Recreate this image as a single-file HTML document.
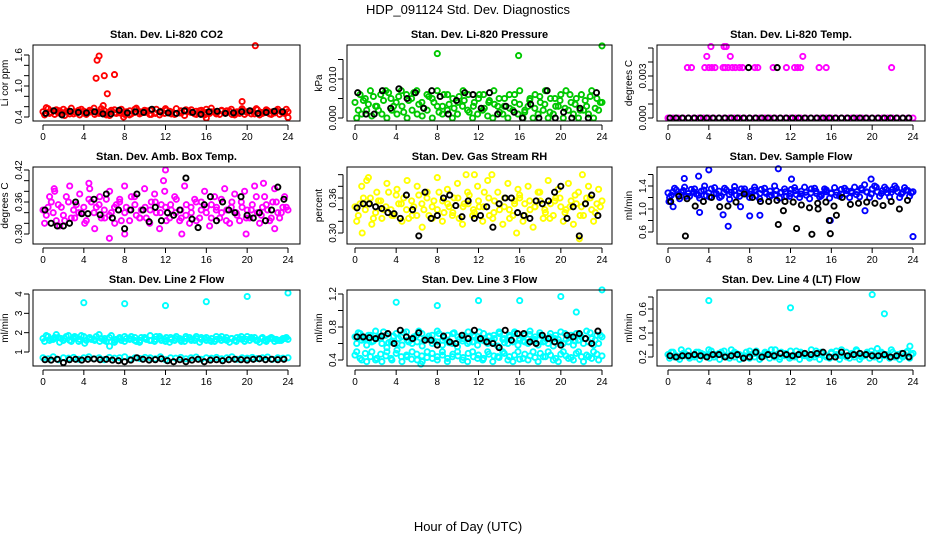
<!DOCTYPE html>
<html><head><meta charset="utf-8"><style>
body{margin:0;background:#fff}
svg{display:block;font-family:"Liberation Sans",sans-serif}
</style></head><body>
<svg id="c" width="936" height="540" viewBox="0 0 936 540">
<text x="468" y="14" font-size="13" text-anchor="middle">HDP_091124  Std. Dev. Diagnostics</text>
<text x="468" y="531" font-size="13" text-anchor="middle">Hour of Day (UTC)</text>
</svg>
<script>
// ---- data ----
const hourTicks=[0,4,8,12,16,20,24];
const hourTickLabels=["0","4","8","12","16","20","24"];

const co2RedA=[0.50,0.56,0.52,0.48,0.55,0.50,0.46,0.53,0.51,0.49,0.57,0.47,0.52,0.50,0.54,0.48,0.45,0.52,0.55,0.50,0.49,0.53,0.47,0.51,0.56,0.50,0.46,0.52,0.54,0.49,0.51,0.48,0.55,0.50,0.47,0.53,0.52,0.45,0.50,0.56,0.49,0.51,0.54,0.47,0.52,0.50,0.55,0.48,0.50];
const co2RedB=[0.44,0.47,0.45,0.52,0.43,0.46,0.50,0.44,0.47,0.53,0.45,0.50,0.46,0.43,0.48,0.52,0.46,0.44,0.49,0.46,0.53,0.45,0.48,0.44,0.47,0.51,0.45,0.48,0.43,0.50,0.46,0.52,0.44,0.47,0.50,0.45,0.48,0.51,0.44,0.47,0.45,0.52,0.46,0.44,0.49,0.46,0.48,0.45,0.47];
const co2RedC=[0.58,0.49,0.54,0.46,0.51,0.57,0.48,0.55,0.45,0.52,0.49,0.56,0.44,0.53,0.47,0.55,0.50,0.46,0.57,0.48,0.52,0.45,0.55,0.49,0.53,0.46,0.56,0.48,0.51,0.54,0.45,0.53,0.49,0.57,0.46,0.52,0.48,0.55,0.47,0.53,0.50,0.46,0.56,0.49,0.54,0.45,0.52,0.50,0.55];
const co2RedOutHours=[5.3,5.5,5.2,6.0,7.0,6.3,5.9,19.5,20.8,16.0,24.0,7.9];
const co2RedOutValues=[1.5,1.58,1.15,1.2,1.22,0.85,0.62,0.7,1.78,0.38,0.39,0.4];
const co2Black=[0.47,0.52,0.44,0.51,0.49,0.48,0.50,0.46,0.46,0.53,0.48,0.50,0.49,0.55,0.50,0.48,0.47,0.52,0.49,0.45,0.50,0.51,0.47,0.48,0.50,0.52,0.47,0.49,0.51,0.50];

const presGreenA=[0.004,0.006,0.005,0.007,0.003,0.006,0.007,0.005,0.004,0.007,0.006,0.005,0.007,0.004,0.006,0.005,0.007,0.003,0.006,0.005,0.004,0.007,0.006,0.003,0.005,0.006,0.004,0.007,0.005,0.003,0.006,0.004,0.007,0.002,0.005,0.006,0.004,0.007,0.005,0.003,0.006,0.007,0.004,0.005,0.006,0.003,0.007,0.005,0.004];
const presGreenB=[0,0.001,0.002,0.0005,0.003,0.001,0,0.002,0.001,0.003,0,0.002,0.001,0.0005,0.002,0,0.003,0.001,0.002,0,0.001,0.003,0.002,0,0.001,0.002,0.0005,0,0.003,0.001,0,0.002,0.001,0,0.003,0,0.001,0.002,0,0.001,0.003,0,0.002,0.001,0,0.002,0.001,0,0.002];
const presGreenC=[0.002,0.0045,0.0035,0.0055,0.002,0.0045,0.0065,0.003,0.0055,0.0015,0.0045,0.0065,0.0035,0.0025,0.0055,0.004,0.0015,0.006,0.0035,0.0025,0.0055,0.0045,0.0015,0.004,0.006,0.0025,0.0045,0.0035,0.0015,0.005,0.0025,0.006,0.0035,0.0015,0.0045,0.0025,0.0055,0.0035,0.0015,0.005,0.0045,0.0025,0.006,0.0035,0.002,0.0045,0.0055,0.0025,0.004];
const presGreenOutHours=[8.0,15.9,24.0];
const presGreenOutValues=[0.0165,0.016,0.0185];
const presBlack=[0.0065,0.001,0.001,0.007,0.0025,0.0075,0.005,0.0065,0.0025,0.007,0.0055,0.001,0.0045,0.0065,0.006,0.0025,0.0065,0.001,0.003,0.0015,0,0.0035,0,0.007,0,0.0015,0,0.0025,0,0.0065];

const tempMagZero=new Array(49).fill(0);
const tempMagOutHours=[1.9,2.3,3.6,4.0,4.3,4.6,5.4,5.6,5.9,6.3,6.6,7.0,7.3,8.5,8.8,10.3,11.6,12.4,12.7,13.0,14.8,15.5,21.9,3.8,6.1,13.2,4.2,5.5,5.7];
const tempMagOutValues=[0.0036,0.0036,0.0036,0.0036,0.0036,0.0036,0.0036,0.0036,0.0036,0.0036,0.0036,0.0036,0.0036,0.0036,0.0036,0.0036,0.0036,0.0036,0.0036,0.0036,0.0036,0.0036,0.0036,0.0044,0.0044,0.0044,0.0051,0.0051,0.0051];
const tempBlack=new Array(40).fill(0);
const tempBlackOutHours=[7.9,10.7];
const tempBlackOutValues=[0.0036,0.0036];

const ambMagA=[0.345,0.35,0.34,0.355,0.335,0.36,0.345,0.34,0.35,0.365,0.34,0.355,0.345,0.335,0.35,0.36,0.34,0.345,0.355,0.33,0.35,0.345,0.36,0.34,0.35,0.355,0.34,0.345,0.335,0.35,0.36,0.345,0.34,0.355,0.35,0.34,0.345,0.36,0.335,0.35,0.345,0.355,0.34,0.35,0.345,0.36,0.34,0.35,0.345];
const ambMagB=[0.32,0.37,0.38,0.315,0.325,0.39,0.33,0.375,0.32,0.385,0.31,0.37,0.33,0.38,0.32,0.365,0.39,0.325,0.37,0.33,0.385,0.32,0.375,0.31,0.38,0.33,0.37,0.325,0.39,0.32,0.365,0.33,0.38,0.315,0.37,0.33,0.385,0.32,0.375,0.325,0.38,0.33,0.39,0.32,0.37,0.325,0.385,0.33,0.37];
const ambMagC=[0.335,0.36,0.325,0.35,0.37,0.33,0.355,0.34,0.325,0.36,0.35,0.33,0.365,0.34,0.355,0.325,0.35,0.37,0.335,0.345,0.33,0.36,0.34,0.355,0.325,0.345,0.365,0.33,0.355,0.34,0.325,0.36,0.35,0.33,0.345,0.365,0.325,0.35,0.34,0.36,0.33,0.345,0.37,0.335,0.355,0.33,0.36,0.34,0.35];
const ambMagOutHours=[6.5,11.8,12.0,1.1,4.5,21.6,8.0,13.6,19.9,22.7];
const ambMagOutValues=[0.292,0.40,0.42,0.385,0.395,0.395,0.30,0.30,0.30,0.31];
const ambBlack=[0.345,0.32,0.315,0.315,0.32,0.36,0.338,0.338,0.365,0.336,0.375,0.33,0.345,0.31,0.345,0.375,0.345,0.323,0.35,0.325,0.34,0.335,0.345,0.405,0.328,0.312,0.355,0.37,0.325,0.36,0.345,0.34,0.37,0.335,0.33,0.34,0.325,0.345,0.388,0.365];

const rhYelA=[0.345,0.35,0.34,0.36,0.335,0.355,0.345,0.34,0.365,0.35,0.34,0.355,0.33,0.35,0.36,0.345,0.34,0.355,0.35,0.335,0.36,0.345,0.35,0.34,0.355,0.345,0.36,0.335,0.35,0.345,0.34,0.355,0.36,0.35,0.34,0.345,0.355,0.335,0.35,0.36,0.345,0.34,0.355,0.35,0.345,0.36,0.34,0.35,0.355];
const rhYelB=[0.32,0.38,0.39,0.315,0.37,0.325,0.385,0.33,0.375,0.32,0.39,0.33,0.38,0.31,0.37,0.325,0.395,0.32,0.375,0.33,0.385,0.315,0.37,0.33,0.38,0.32,0.39,0.325,0.37,0.315,0.385,0.33,0.375,0.32,0.38,0.31,0.37,0.325,0.39,0.33,0.375,0.32,0.385,0.315,0.37,0.33,0.38,0.32,0.375];
const rhYelC=[0.33,0.36,0.35,0.325,0.355,0.34,0.37,0.33,0.35,0.36,0.325,0.345,0.365,0.34,0.33,0.355,0.37,0.335,0.345,0.36,0.325,0.35,0.365,0.335,0.345,0.37,0.33,0.355,0.34,0.36,0.325,0.35,0.365,0.33,0.355,0.345,0.37,0.34,0.325,0.355,0.36,0.335,0.345,0.365,0.33,0.35,0.36,0.335,0.345];
const rhYelOutHours=[0.7,1.3,10.8,11.6,13.3,15.7,21.8,22.1];
const rhYelOutValues=[0.30,0.395,0.40,0.40,0.40,0.30,0.29,0.40];
const rhBlack=[0.343,0.35,0.35,0.345,0.342,0.335,0.333,0.325,0.365,0.34,0.295,0.37,0.325,0.33,0.36,0.365,0.347,0.328,0.355,0.325,0.33,0.345,0.31,0.35,0.36,0.36,0.335,0.33,0.325,0.355,0.35,0.355,0.37,0.38,0.325,0.345,0.295,0.35,0.365,0.33];

const flowBlueA=[1.28,1.3,1.25,1.32,1.27,1.3,1.24,1.33,1.28,1.26,1.31,1.29,1.25,1.32,1.28,1.3,1.26,1.33,1.27,1.29,1.31,1.25,1.28,1.3,1.27,1.32,1.26,1.29,1.28,1.31,1.25,1.3,1.27,1.29,1.26,1.32,1.28,1.3,1.33,1.29,1.35,1.3,1.32,1.28,1.34,1.3,1.29,1.32,1.3];
const flowBlueB=[1.2,1.36,1.18,1.38,1.22,1.35,1.19,1.4,1.21,1.37,1.2,1.36,1.17,1.39,1.22,1.35,1.2,1.38,1.18,1.36,1.21,1.4,1.19,1.35,1.22,1.37,1.2,1.38,1.18,1.36,1.21,1.35,1.19,1.37,1.22,1.36,1.2,1.38,1.21,1.42,1.2,1.4,1.22,1.38,1.21,1.4,1.2,1.37,1.22];
const flowBlueC=[1.24,1.33,1.29,1.22,1.34,1.26,1.31,1.23,1.35,1.27,1.22,1.33,1.29,1.24,1.35,1.26,1.31,1.23,1.34,1.27,1.24,1.32,1.29,1.22,1.34,1.25,1.31,1.24,1.35,1.27,1.23,1.33,1.28,1.24,1.34,1.26,1.31,1.25,1.36,1.3,1.26,1.38,1.27,1.34,1.29,1.36,1.26,1.33,1.28];
const flowBlueOutHours=[0.1,0.5,1.6,3.0,3.1,4.0,5.4,5.9,7.1,8.0,9.0,10.8,12.1,15.9,19.3,19.9,24.0];
const flowBlueOutValues=[1.13,1.04,1.53,1.57,0.94,1.68,0.90,0.70,1.04,0.88,0.89,1.7,1.52,0.80,0.97,1.52,0.52];
const flowBlack=[1.13,1.22,1.18,1.05,1.13,1.2,1.04,1.05,1.12,1.26,1.2,1.13,1.13,1.15,1.13,1.12,1.07,1.02,1.1,1.12,1.05,1.2,1.08,1.1,1.12,1.1,1.06,1.13,1.0,1.15];
const flowBlackOutHours=[1.7,10.8,11.3,12.6,14.1,15.9,16.5,14.7,15.8];
const flowBlackOutValues=[0.53,0.73,0.97,0.66,0.56,0.57,0.89,1.0,0.8];

const l2CyanA=[1.7,1.8,1.65,1.75,1.6,1.85,1.7,1.55,1.8,1.7,1.65,1.9,1.6,1.75,1.5,1.7,1.8,1.65,1.75,1.6,1.7,1.85,1.65,1.7,1.55,1.75,1.7,1.6,1.8,1.65,1.7,1.75,1.6,1.7,1.65,1.8,1.6,1.7,1.75,1.65,1.8,1.7,1.6,1.75,1.65,1.7,1.6,1.7,1.65];
const l2CyanB=[1.55,1.6,1.75,1.5,1.7,1.6,1.8,1.65,1.45,1.75,1.6,1.55,1.7,1.3,1.6,1.75,1.55,1.7,1.6,1.5,1.75,1.6,1.55,1.8,1.65,1.5,1.6,1.7,1.55,1.75,1.6,1.5,1.7,1.6,1.55,1.7,1.65,1.5,1.6,1.7,1.55,1.6,1.75,1.5,1.6,1.7,1.55,1.6,1.7];
const l2CyanC=[0.7,0.65,0.75,0.6,0.7,0.68,0.72,0.62,0.7,0.75,0.65,0.7,0.6,0.72,0.68,0.7,0.75,0.62,0.7,0.66,0.72,0.7,0.65,0.75,0.6,0.7,0.68,0.72,0.65,0.7,0.74,0.62,0.7,0.68,0.72,0.65,0.7,0.75,0.62,0.7,0.68,0.72,0.66,0.7,0.74,0.62,0.7,0.68,0.7];
const l2CyanD=[1.85,1.65,1.9,1.7,1.8,1.55,1.75,1.85,1.6,1.65,1.8,1.7,1.55,1.85,1.65,1.6,1.7,1.8,1.55,1.75,1.65,1.6,1.8,1.6,1.75,1.65,1.8,1.55,1.7,1.6,1.8,1.65,1.75,1.55,1.8,1.6,1.75,1.7,1.55,1.8,1.65,1.75,1.6,1.7,1.55,1.75,1.65,1.6,1.75];
const l2CyanOutHours=[4,8,12,16,20,24];
const l2CyanOutValues=[3.55,3.5,3.4,3.6,3.87,4.05];
const l2Black=[0.6,0.58,0.62,0.45,0.6,0.62,0.58,0.62,0.64,0.6,0.62,0.58,0.55,0.5,0.58,0.7,0.62,0.58,0.6,0.65,0.55,0.5,0.6,0.5,0.58,0.62,0.5,0.58,0.6,0.55,0.6,0.62,0.6,0.58,0.62,0.65,0.6,0.62,0.6,0.62];

const l3CyanA=[0.68,0.72,0.65,0.7,0.75,0.66,0.7,0.62,0.72,0.68,0.74,0.65,0.7,0.72,0.66,0.7,0.75,0.64,0.7,0.72,0.68,0.66,0.74,0.7,0.65,0.72,0.68,0.7,0.74,0.66,0.7,0.72,0.64,0.7,0.75,0.68,0.7,0.66,0.72,0.7,0.74,0.65,0.7,0.72,0.68,0.75,0.66,0.7,0.68];
const l3CyanB=[0.6,0.64,0.58,0.62,0.66,0.6,0.55,0.63,0.6,0.58,0.64,0.6,0.62,0.57,0.65,0.6,0.62,0.58,0.64,0.6,0.56,0.63,0.6,0.62,0.58,0.64,0.6,0.62,0.57,0.65,0.6,0.62,0.58,0.63,0.6,0.64,0.58,0.62,0.6,0.57,0.65,0.6,0.62,0.58,0.64,0.6,0.62,0.58,0.6];
const l3CyanC=[0.46,0.42,0.48,0.44,0.4,0.47,0.45,0.42,0.48,0.44,0.46,0.41,0.47,0.45,0.43,0.48,0.44,0.46,0.42,0.47,0.45,0.43,0.48,0.44,0.46,0.42,0.47,0.45,0.43,0.48,0.44,0.46,0.41,0.47,0.45,0.43,0.48,0.44,0.46,0.42,0.47,0.45,0.43,0.48,0.44,0.46,0.42,0.47,0.45];
const l3CyanD=[0.5,0.4,0.38,0.5,0.42,0.38,0.5,0.4,0.52,0.38,0.44,0.5,0.4,0.38,0.5,0.42,0.4,0.5,0.38,0.44,0.5,0.4,0.38,0.5,0.42,0.4,0.5,0.38,0.44,0.5,0.4,0.38,0.5,0.42,0.4,0.5,0.38,0.44,0.5,0.4,0.38,0.5,0.42,0.4,0.5,0.38,0.44,0.5,0.4];
const l3CyanE=[0.73,0.66,0.7,0.63,0.68,0.74,0.61,0.69,0.66,0.73,0.62,0.68,0.75,0.64,0.69,0.63,0.72,0.67,0.61,0.73,0.65,0.7,0.62,0.68,0.74,0.63,0.69,0.66,0.72,0.61,0.68,0.74,0.66,0.62,0.71,0.65,0.73,0.63,0.68,0.66,0.61,0.72,0.67,0.63,0.7,0.66,0.73,0.64,0.7];
const l3CyanOutHours=[4,8,12,16,20,21.5,24,6.4];
const l3CyanOutValues=[1.1,1.06,1.12,1.12,1.17,0.98,1.25,0.35];
const l3Black=[0.68,0.68,0.67,0.66,0.69,0.72,0.6,0.76,0.68,0.66,0.73,0.64,0.64,0.58,0.69,0.62,0.6,0.7,0.66,0.76,0.66,0.62,0.6,0.55,0.76,0.64,0.72,0.72,0.62,0.6,0.7,0.66,0.62,0.58,0.7,0.68,0.72,0.66,0.6,0.75];

const l4CyanA=[0.22,0.24,0.2,0.23,0.25,0.21,0.24,0.22,0.26,0.2,0.23,0.25,0.21,0.24,0.22,0.2,0.25,0.23,0.21,0.24,0.22,0.26,0.2,0.23,0.25,0.21,0.24,0.22,0.2,0.25,0.23,0.21,0.24,0.22,0.26,0.2,0.23,0.25,0.21,0.24,0.22,0.27,0.23,0.21,0.24,0.22,0.2,0.25,0.23];
const l4CyanB=[0.19,0.2,0.18,0.21,0.19,0.2,0.18,0.21,0.19,0.2,0.18,0.21,0.19,0.2,0.18,0.21,0.19,0.2,0.18,0.21,0.19,0.2,0.18,0.21,0.19,0.2,0.18,0.21,0.19,0.2,0.18,0.21,0.19,0.2,0.18,0.21,0.19,0.2,0.18,0.21,0.19,0.2,0.18,0.21,0.19,0.2,0.18,0.21,0.19];
const l4CyanC=[0.24,0.21,0.26,0.22,0.2,0.24,0.23,0.21,0.25,0.22,0.24,0.2,0.26,0.23,0.21,0.24,0.22,0.25,0.2,0.23,0.26,0.21,0.24,0.22,0.2,0.25,0.23,0.21,0.26,0.22,0.24,0.2,0.23,0.25,0.21,0.24,0.22,0.26,0.2,0.23,0.25,0.21,0.24,0.22,0.26,0.2,0.23,0.24,0.22];
const l4CyanOutHours=[4,12,20,21.2,23.7];
const l4CyanOutValues=[0.67,0.61,0.72,0.56,0.29];
const l4Black=[0.21,0.2,0.21,0.21,0.22,0.21,0.2,0.22,0.22,0.2,0.21,0.22,0.19,0.2,0.24,0.2,0.22,0.21,0.23,0.22,0.21,0.22,0.23,0.22,0.23,0.24,0.2,0.2,0.24,0.21,0.22,0.23,0.22,0.21,0.21,0.22,0.2,0.21,0.23,0.2];

// ---- drawing ----
const NS="http://www.w3.org/2000/svg";
const svg=document.getElementById('c');
function mk(tag,attrs,parent){const e=document.createElementNS(NS,tag);for(const k in attrs)e.setAttribute(k,attrs[k]);(parent||svg).appendChild(e);return e;}

const cols=[{bx0:33,bx1:300,h0:43,h24:288,ylab:8,tlab:22},{bx0:347,bx1:612,h0:355,h24:602,ylab:322,tlab:336},{bx0:657,bx1:925,h0:668,h24:913,ylab:632,tlab:646}];
const rows=[{top:45,bot:121,title:38},{top:167,bot:244,title:160},{top:290,bot:366,title:283}];

function panel(name,title,ci,ri,ylabel,v0,p0,v1,p1,ticks,labels,series){
  const c=cols[ci],r=rows[ri];
  const g=mk('g',{});
  
  
  const xs=h=>c.h0+(h/24)*(c.h24-c.h0);
  const ys=v=>p0+(v-v0)*(p1-p0)/(v1-v0);
  const t=mk('text',{x:(c.bx0+c.bx1)/2,y:r.title,'font-size':11,'font-weight':'bold','text-anchor':'middle'},g);
  t.textContent=title;
  
  
  const yl=mk('text',{x:0,y:0,'font-size':10,'text-anchor':'middle',transform:`translate(${c.ylab},${(r.top+r.bot)/2}) rotate(-90)`},g);
  yl.textContent=ylabel;
  
  
  const pts=mk('g',{fill:'none','stroke-width':1.9},g);
  
  
  series.forEach(s=>{
    s.values.forEach((v,i)=>{
      let h;
      if(s.hours) h=s.hours[i];
      else if(s.offset) h=(i+s.offset*0.33)*24/s.values.length;
      else h=i*24/(s.values.length-1);
      const cc=mk('circle',{cx:xs(h).toFixed(1),cy:ys(v).toFixed(1),r:2.6,stroke:s.color},pts);
      
      
    });
  });
  const b=mk('rect',{x:c.bx0,y:r.top,width:c.bx1-c.bx0,height:r.bot-r.top,fill:'none',stroke:'#000','stroke-width':1},g);
  
  
  const xa=mk('g',{},g);
  
  
  mk('line',{x1:c.h0,x2:c.h24,y1:r.bot+4,y2:r.bot+4,stroke:'#000'},xa);
  hourTicks.forEach((h,i)=>{
    mk('line',{x1:xs(h),x2:xs(h),y1:r.bot+4,y2:r.bot+9,stroke:'#000'},xa);
    const tl=mk('text',{x:xs(h),y:r.bot+19,'font-size':10,'text-anchor':'middle'},xa);
    tl.textContent=hourTickLabels[i];
    
    
  });
  const ya=mk('g',{},g);
  
  
  const ax=c.bx0-4;
  mk('line',{x1:ax,x2:ax,y1:ys(ticks[0]),y2:ys(ticks[ticks.length-1]),stroke:'#000'},ya);
  ticks.forEach((v,i)=>{
    mk('line',{x1:ax-5,x2:ax,y1:ys(v),y2:ys(v),stroke:'#000'},ya);
    if(labels[i]){
      const tl=mk('text',{x:0,y:0,'font-size':10,'text-anchor':'middle',transform:`translate(${c.tlab},${ys(v)}) rotate(-90)`},ya);
      tl.textContent=labels[i];
      
      
    }
  });
}
const K='#000';
panel('panel-co2','Stan. Dev. Li-820 CO2',0,0,'Li cor ppm',0.4,117,1.6,55,
  [0.4,0.6,0.8,1.0,1.2,1.4,1.6],['0.4','','','1.0','','','1.6'],
  [{color:'red',values:co2RedA},{color:'red',values:co2RedB,offset:1},{color:'red',values:co2RedC,offset:2},{color:'red',hours:co2RedOutHours,values:co2RedOutValues},{color:K,values:co2Black,offset:1}]);
panel('panel-pressure','Stan. Dev. Li-820 Pressure',1,0,'kPa',0,118,0.01,79,
  [0,0.005,0.01,0.015],['0.000','','0.010',''],
  [{color:'#00c800',values:presGreenA},{color:'#00c800',values:presGreenB,offset:1},{color:'#00c800',values:presGreenC,offset:2},{color:'#00c800',hours:presGreenOutHours,values:presGreenOutValues},{color:K,values:presBlack,offset:1}]);
panel('panel-temp','Stan. Dev. Li-820 Temp.',2,0,'degrees C',0,118,0.003,76,
  [0,0.001,0.002,0.003,0.004,0.005],['0.000','','','0.003','',''],
  [{color:'magenta',values:tempMagZero},{color:'magenta',hours:tempMagOutHours,values:tempMagOutValues},{color:K,values:tempBlack,offset:1},{color:K,hours:tempBlackOutHours,values:tempBlackOutValues}]);
panel('panel-amb-temp','Stan. Dev. Amb. Box Temp.',0,1,'degrees C',0.30,234,0.42,170,
  [0.30,0.32,0.34,0.36,0.38,0.40,0.42],['0.30','','','0.36','','','0.42'],
  [{color:'magenta',values:ambMagA},{color:'magenta',values:ambMagB,offset:1},{color:'magenta',values:ambMagC,offset:2},{color:'magenta',hours:ambMagOutHours,values:ambMagOutValues},{color:K,values:ambBlack,offset:1}]);
panel('panel-rh','Stan. Dev. Gas Stream RH',1,1,'percent',0.30,233,0.36,198,
  [0.30,0.32,0.34,0.36,0.38,0.40],['0.30','','','0.36','',''],
  [{color:'yellow',values:rhYelA},{color:'yellow',values:rhYelB,offset:1},{color:'yellow',values:rhYelC,offset:2},{color:'yellow',hours:rhYelOutHours,values:rhYelOutValues},{color:K,values:rhBlack,offset:1}]);
panel('panel-sample-flow','Stan. Dev. Sample Flow',2,1,'ml/min',0.6,232,1.4,186,
  [0.6,0.8,1.0,1.2,1.4,1.6],['0.6','','1.0','','1.4',''],
  [{color:'blue',values:flowBlueA},{color:'blue',values:flowBlueB,offset:1},{color:'blue',values:flowBlueC,offset:2},{color:'blue',hours:flowBlueOutHours,values:flowBlueOutValues},{color:K,values:flowBlack,offset:1},{color:K,hours:flowBlackOutHours,values:flowBlackOutValues}]);
panel('panel-line2-flow','Stan. Dev. Line 2 Flow',0,2,'ml/min',1,352,4,294,
  [1,2,3,4],['1','2','3','4'],
  [{color:'cyan',values:l2CyanA},{color:'cyan',values:l2CyanB,offset:1},{color:'cyan',values:l2CyanD,offset:2},{color:'cyan',values:l2CyanC},{color:'cyan',hours:l2CyanOutHours,values:l2CyanOutValues},{color:K,values:l2Black,offset:1}]);
panel('panel-line3-flow','Stan. Dev. Line 3 Flow',1,2,'ml/min',0.4,360,1.2,294,
  [0.4,0.6,0.8,1.0,1.2],['0.4','','0.8','','1.2'],
  [{color:'cyan',values:l3CyanA},{color:'cyan',values:l3CyanB,offset:1},{color:'cyan',values:l3CyanE,offset:2},{color:'cyan',values:l3CyanC},{color:'cyan',values:l3CyanD,offset:1},{color:'cyan',hours:l3CyanOutHours,values:l3CyanOutValues},{color:K,values:l3Black,offset:1}]);
panel('panel-line4-flow','Stan. Dev. Line 4 (LT) Flow',2,2,'ml/min',0.2,357,0.6,309,
  [0.2,0.3,0.4,0.5,0.6,0.7],['0.2','','0.4','','0.6',''],
  [{color:'cyan',values:l4CyanA},{color:'cyan',values:l4CyanB,offset:1},{color:'cyan',values:l4CyanC,offset:2},{color:'cyan',hours:l4CyanOutHours,values:l4CyanOutValues},{color:K,values:l4Black,offset:1}]);
</script>
</body></html>
